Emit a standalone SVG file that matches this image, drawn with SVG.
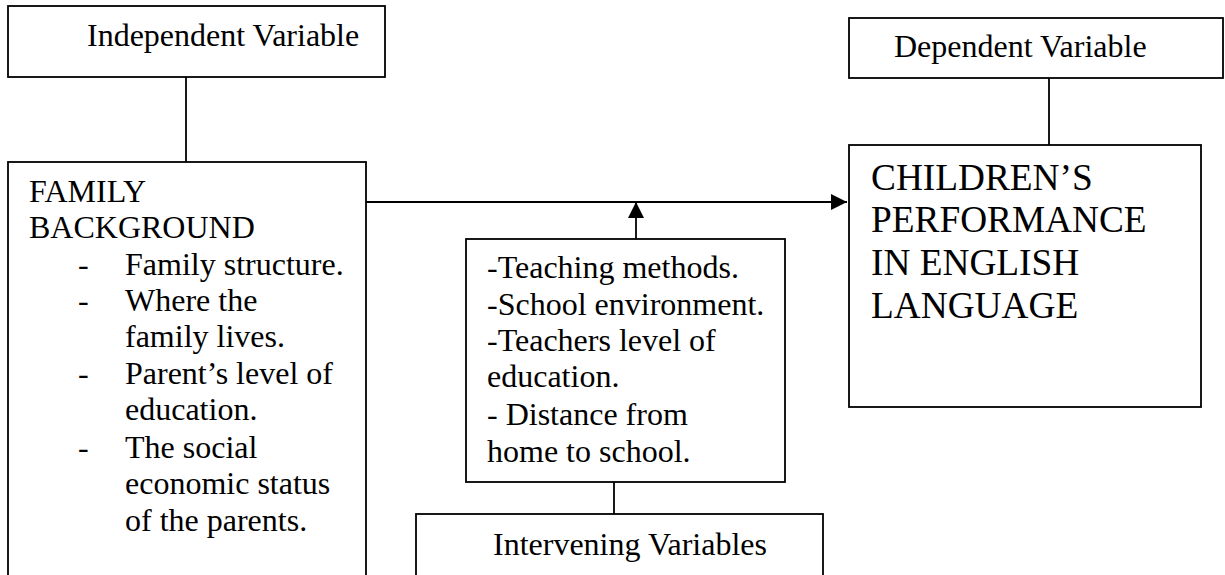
<svg xmlns="http://www.w3.org/2000/svg" width="1225" height="575" viewBox="0 0 1225 575">
<defs>
<marker id="arr" markerUnits="userSpaceOnUse" markerWidth="16" markerHeight="16" refX="16" refY="8" orient="auto">
<path d="M0,0 L16,8 L0,16 z" fill="#000"/>
</marker>
</defs>
<style>
.box{fill:#fff;stroke:#000;stroke-width:1.8}
.t{font-family:"Liberation Serif","Times New Roman",serif;font-size:32px;fill:#000}
.big{font-size:37.3px}
.ln{stroke:#000;stroke-width:1.8;fill:none}
</style>
<rect width="1225" height="575" fill="#fff"/>
<g id="connectors">
<line class="ln" x1="186" y1="77" x2="186" y2="162"/>
<line class="ln" x1="1049" y1="78" x2="1049" y2="145"/>
<line class="ln" x1="366" y1="202" x2="847" y2="202" marker-end="url(#arr)"/>
<line class="ln" x1="636" y1="239" x2="636" y2="202" marker-end="url(#arr)"/>
<line class="ln" x1="614" y1="482" x2="614" y2="514"/>
</g>
<g id="independent">
<rect class="box" x="8" y="6" width="377" height="71"/>
<text class="t" x="87" y="46">Independent Variable</text>
</g>
<g id="dependent">
<rect class="box" x="849" y="18" width="374" height="60"/>
<text class="t" x="894" y="57">Dependent Variable</text>
</g>
<g id="family">
<rect class="box" x="8" y="162" width="358" height="430"/>
<text class="t" x="29" y="202">FAMILY</text>
<text class="t" x="29" y="238">BACKGROUND</text>
<text class="t" x="78" y="275">-</text>
<text class="t" x="125" y="275">Family structure.</text>
<text class="t" x="78" y="311">-</text>
<text class="t" x="125" y="311">Where the</text>
<text class="t" x="125" y="347">family lives.</text>
<text class="t" x="78" y="384">-</text>
<text class="t" x="125" y="384">Parent’s level of</text>
<text class="t" x="125" y="420">education.</text>
<text class="t" x="78" y="458">-</text>
<text class="t" x="125" y="458">The social</text>
<text class="t" x="125" y="494">economic status</text>
<text class="t" x="125" y="531">of the parents.</text>
</g>
<g id="children">
<rect class="box" x="849" y="145" width="352" height="262"/>
<text class="t big" x="871" y="190">CHILDREN’S</text>
<text class="t big" x="871" y="232">PERFORMANCE</text>
<text class="t big" x="871" y="275">IN ENGLISH</text>
<text class="t big" x="871" y="318">LANGUAGE</text>
</g>
<g id="intervening-factors">
<rect class="box" x="466" y="239" width="319" height="243"/>
<text class="t" x="487" y="278">-Teaching methods.</text>
<text class="t" x="487" y="315">-School environment.</text>
<text class="t" x="487" y="351">-Teachers level of</text>
<text class="t" x="487" y="387">education.</text>
<text class="t" x="487" y="425">- Distance from</text>
<text class="t" x="487" y="462">home to school.</text>
</g>
<g id="intervening">
<rect class="box" x="416" y="514" width="407" height="80"/>
<text class="t" x="493" y="555">Intervening Variables</text>
</g>
</svg>
